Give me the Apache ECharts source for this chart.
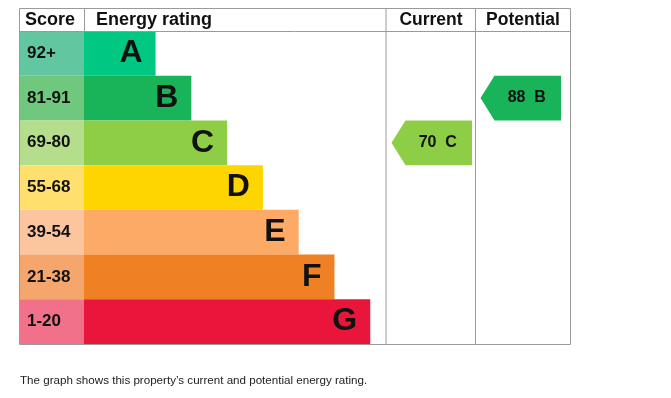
<!DOCTYPE html>
<html>
<head>
<meta charset="utf-8">
<script src="https://cdn.jsdelivr.net/npm/echarts@6/dist/echarts.min.js"></script>
<style>
  html, body { margin: 0; padding: 0; background: #fff; }
  #chart { width: 671px; height: 398px; }
</style>
</head>
<body>
<div id="chart"></div>
<script>
// 能耗等级数据
var bands = ['A', 'B', 'C', 'D', 'E', 'F', 'G'];
var scoreRanges = ['92+', '81-91', '69-80', '55-68', '39-54', '21-38', '1-20'];
var bandMins = [92, 81, 69, 55, 39, 21, 1];
var bandLength = [2, 3, 4, 5, 6, 7, 8];
var bandColors = ['#00c781', '#19b459', '#8dce46', '#ffd500', '#fcaa65', '#ef8023', '#e9153b'];
var scoreColors = ['#62c6a0', '#70c87e', '#b4de8c', '#ffe06f', '#fdc59d', '#f4a66c', '#f07189'];
var currentScore = 70;
var potentialScore = 88;

var FONT = '"Liberation Sans", Arial, sans-serif';

function bandOf(score) {
    for (var i = 0; i < bandMins.length; i++) {
        if (score >= bandMins[i]) return i;
    }
    return bands.length - 1;
}

var myChart = echarts.init(document.getElementById('chart'), null, { renderer: 'canvas' });

// 箭头
function arrowItem(params, api) {
    var cs = params.coordSys;
    var idx = api.value(1);
    var yc = api.coord([0, idx])[1];
    var h = api.size([0, 1])[1];
    var x0 = cs.x + 5.5, x1 = x0 + 14, x2 = x0 + 80.5;
    return {
        type: 'group',
        children: [{
            type: 'polygon',
            shape: { points: [[x0, yc], [x1, yc - h / 2], [x2, yc - h / 2], [x2, yc + h / 2], [x1, yc + h / 2]] },
            style: { fill: bandColors[idx] }
        }, {
            type: 'text',
            style: {
                text: api.value(2) + '  ' + bands[idx],
                x: (x1 + x2) / 2 - 1,
                y: yc,
                align: 'center',
                verticalAlign: 'middle',
                fontSize: 16,
                fontWeight: 'bold',
                fontFamily: FONT,
                fill: '#111'
            }
        }]
    };
}

var grids = [
    { left: 19, top: 31, width: 65, height: 313 },
    { left: 84, top: 31, width: 302, height: 313 },
    { left: 386, top: 31, width: 89, height: 313 },
    { left: 475, top: 31, width: 95, height: 313 }
];

var xAxes = [], yAxes = [];
grids.forEach(function(g, i) {
    xAxes.push({ type: 'value', gridIndex: i, min: 0, max: i === 1 ? 8.44 : 1, show: false });
    yAxes.push({ type: 'category', gridIndex: i, data: bands, inverse: true, show: false });
});

var lineStyle = { stroke: '#9a9a9a', lineWidth: 1 };

var option = {
    animation: false,
    grid: grids,
    xAxis: xAxes,
    yAxis: yAxes,
    graphic: [
        { type: 'rect', shape: { x: 19.5, y: 8.5, width: 551, height: 336 }, style: { fill: 'none', stroke: '#9a9a9a', lineWidth: 1 }, z: 100 },
        { type: 'line', shape: { x1: 19, y1: 31.5, x2: 570, y2: 31.5 }, style: lineStyle, z: 100 },
        { type: 'line', shape: { x1: 84.5, y1: 8, x2: 84.5, y2: 31 }, style: lineStyle, z: 100 },
        { type: 'line', shape: { x1: 386, y1: 8, x2: 386, y2: 344 }, style: lineStyle, z: 100 },
        { type: 'line', shape: { x1: 475.5, y1: 8, x2: 475.5, y2: 344 }, style: lineStyle, z: 100 },
        { type: 'text', style: { text: 'Score', x: 25, y: 20, verticalAlign: 'middle', fontSize: 18, fontWeight: 'bold', fontFamily: FONT, fill: '#111' } },
        { type: 'text', style: { text: 'Energy rating', x: 96, y: 20, verticalAlign: 'middle', fontSize: 18, fontWeight: 'bold', fontFamily: FONT, fill: '#111' } },
        { type: 'text', style: { text: 'Current', x: 431, y: 20, align: 'center', verticalAlign: 'middle', fontSize: 17.5, fontWeight: 'bold', fontFamily: FONT, fill: '#111' } },
        { type: 'text', style: { text: 'Potential', x: 523, y: 20, align: 'center', verticalAlign: 'middle', fontSize: 17.5, fontWeight: 'bold', fontFamily: FONT, fill: '#111' } },
        { type: 'text', style: { text: "The graph shows this property\u2019s current and potential energy rating.", x: 20, y: 381, verticalAlign: 'middle', fontSize: 11.6, fontFamily: FONT, fill: '#222' } }
    ],
    series: [{
        name: 'score',
        type: 'bar',
        xAxisIndex: 0,
        yAxisIndex: 0,
        barWidth: '100%',
        data: scoreRanges.map(function(s, i) {
            return { value: 1, name: s, itemStyle: { color: scoreColors[i] } };
        }),
        label: {
            show: true,
            position: 'insideLeft',
            distance: 8,
            formatter: function(p) { return p.name; },
            fontSize: 17,
            fontWeight: 'bold',
            fontFamily: FONT,
            color: '#111'
        }
    }, {
        name: 'rating',
        type: 'bar',
        xAxisIndex: 1,
        yAxisIndex: 1,
        barWidth: '100%',
        data: bandLength.map(function(v, i) {
            return { value: v, name: bands[i], itemStyle: { color: bandColors[i] } };
        }),
        label: {
            show: true,
            position: 'insideRight',
            distance: 13,
            formatter: function(p) { return p.name; },
            fontSize: 32,
            fontWeight: 'bold',
            fontFamily: FONT,
            color: '#111'
        }
    }, {
        name: 'current',
        type: 'custom',
        xAxisIndex: 2,
        yAxisIndex: 2,
        renderItem: arrowItem,
        data: [[0, bandOf(currentScore), currentScore]]
    }, {
        name: 'potential',
        type: 'custom',
        xAxisIndex: 3,
        yAxisIndex: 3,
        renderItem: arrowItem,
        data: [[0, bandOf(potentialScore), potentialScore]]
    }]
};

myChart.setOption(option);
</script>
</body>
</html>
